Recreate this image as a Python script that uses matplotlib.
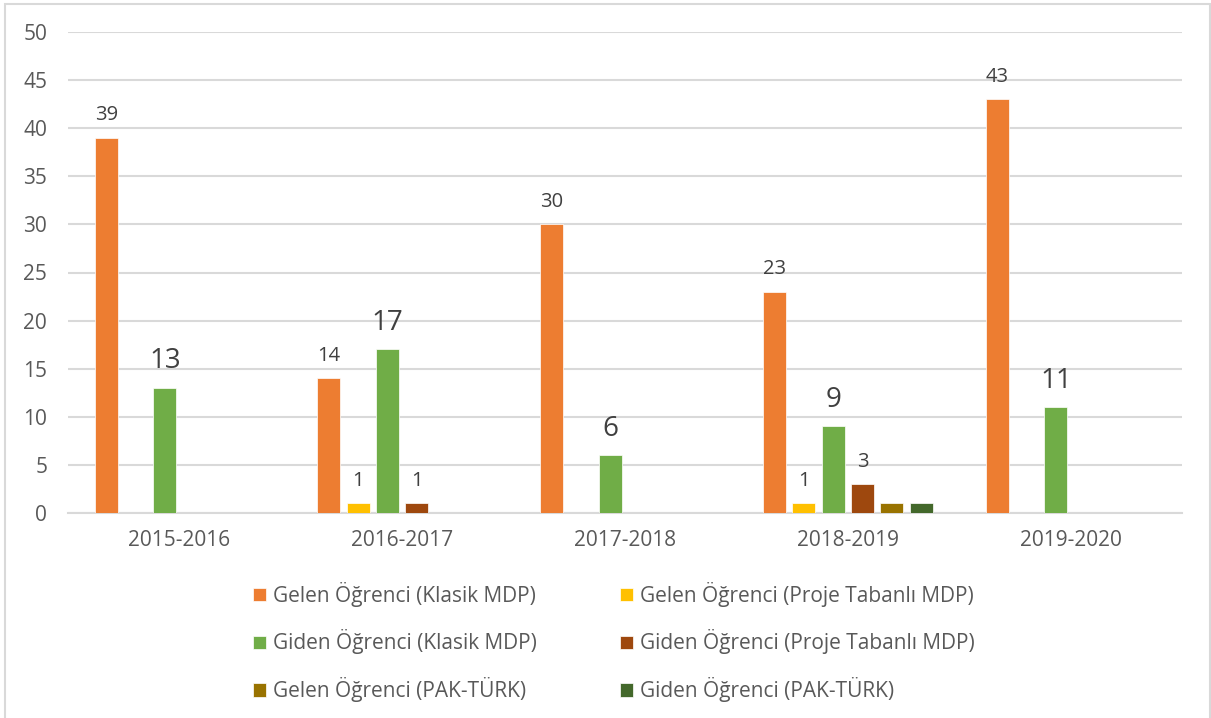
import matplotlib
matplotlib.use("Agg")
import matplotlib.pyplot as plt
from matplotlib.patches import Rectangle
import numpy as np

plt.rcParams['font.family'] = ['Open Sans', 'DejaVu Sans']

categories = ["2015-2016", "2016-2017", "2017-2018", "2018-2019", "2019-2020"]
series_names = [
    "Gelen Öğrenci (Klasik MDP)",
    "Gelen Öğrenci (Proje Tabanlı MDP)",
    "Giden Öğrenci (Klasik MDP)",
    "Giden Öğrenci (Proje Tabanlı MDP)",
    "Gelen Öğrenci (PAK-TÜRK)",
    "Giden Öğrenci (PAK-TÜRK)",
]
gelen_klasik = [39, 14, 30, 23, 43]
gelen_proje = [None, 1, None, 1, None]
giden_klasik = [13, 17, 6, 9, 11]
giden_proje = [None, 1, None, 3, None]
gelen_pak = [None, None, None, 1, None]
giden_pak = [None, None, None, 1, None]
series_values = [gelen_klasik, gelen_proje, giden_klasik, giden_proje, gelen_pak, giden_pak]
colors = ["#ED7D31", "#FFC000", "#70AD47", "#9E480E", "#997300", "#43682B"]
label_sizes = [14.5, 14.5, 20, 14.5, None, None]

fig = plt.figure(figsize=(12.11, 7.18), dpi=100)
ax = fig.add_axes([68/1211, 1-513/718, (1182-68)/1211, (513-32)/718])

x = np.arange(len(categories))
slot = 0.1315
width = 0.103
text_color = "#595959"
for i, (name, vals, c) in enumerate(zip(series_names, series_values, colors)):
    off = (i - 2.5) * slot
    xs = [xi + off for xi, v in zip(x, vals) if v is not None]
    ys = [v for v in vals if v is not None]
    ax.bar(xs, ys, width=width, color=c, label=name, zorder=3,
           edgecolor='white', linewidth=0.5)
    if label_sizes[i]:
        for xx, yy in zip(xs, ys):
            ax.annotate(str(yy), (xx, yy), xytext=(0, 9),
                        textcoords='offset points', ha='center', va='bottom',
                        fontsize=label_sizes[i], color="#404040")

ax.set_xlim(-0.5, len(categories) - 0.5)
ax.set_ylim(0, 50)
ax.set_yticks(range(0, 51, 5))
ax.set_xticks(x)
ax.set_xticklabels(categories)
ax.tick_params(axis='both', length=0, labelsize=15, colors=text_color)
ax.tick_params(axis='y', pad=15)
ax.tick_params(axis='x', pad=12)
ax.grid(axis='y', color='#D9D9D9', linewidth=1.5, zorder=0)
for s in ['top', 'right', 'left']:
    ax.spines[s].set_visible(False)
ax.spines['bottom'].set_color('#D9D9D9')
ax.spines['bottom'].set_linewidth(1.5)

handles, labels = ax.get_legend_handles_labels()
order = [0, 2, 4, 1, 3, 5]
leg = fig.legend([handles[k] for k in order], [labels[k] for k in order],
                 ncol=2, loc='center',
                 bbox_to_anchor=(614/1211, 1-642/718), frameon=False,
                 fontsize=15, handlelength=0.6, handleheight=0.6,
                 handletextpad=0.35, columnspacing=4.0, labelspacing=1.1)
for t in leg.get_texts():
    t.set_color(text_color)

fig.patches.append(Rectangle((5/1211, -0.05), (1210-5)/1211, 1.05 - 4/718,
                             transform=fig.transFigure, fill=False,
                             edgecolor='#D9D9D9', linewidth=1.5))

fig.savefig("out.png", dpi=100)
